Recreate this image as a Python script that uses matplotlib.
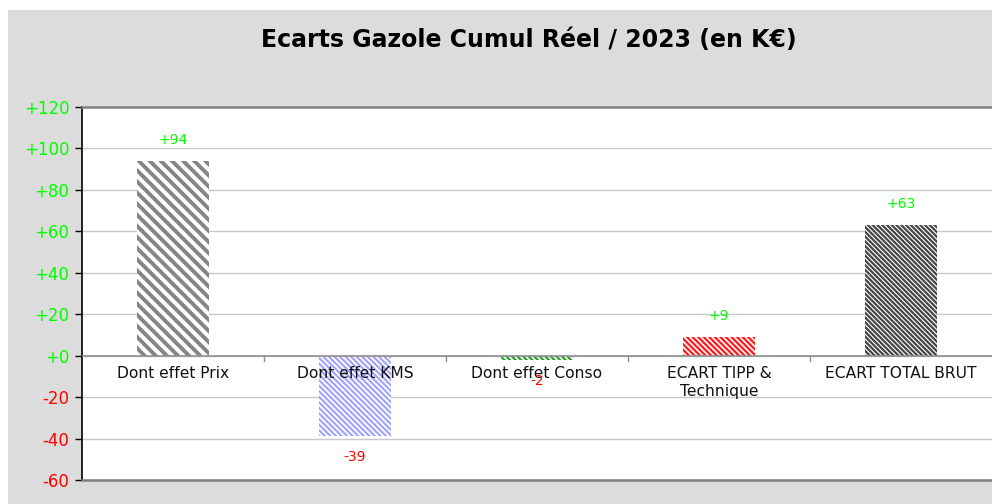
import matplotlib
matplotlib.use("Agg")
import matplotlib.pyplot as plt
from matplotlib.patches import Rectangle

# donnees (en K€)
categories = ["Dont effet Prix", "Dont effet KMS", "Dont effet Conso",
              "ECART TIPP &\nTechnique", "ECART TOTAL BRUT"]
valeurs = [94, -39, -2, 9, 63]
couleurs = ["#858585", "#a0a0ff", "#2e9e2e", "#ff1a1a", "#454545"]
hachures = ["\\" * 3, "\\" * 6, "\\" * 6, "\\" * 6, "\\" * 7]
epaisseurs = [2.8, 1.5, 1.6, 1.6, 1.6]
yticks = [-60, -40, -20, 0, 20, 40, 60, 80, 100, 120]

VERT = "#00ff00"
ROUGE = "#ff0000"

fig = plt.figure(figsize=(9.92, 5.04), dpi=100, facecolor="white")
fig.patches.append(Rectangle((8 / 992, 0), 1, (504 - 10) / 504,
                             transform=fig.transFigure, facecolor="#dcdcdc",
                             edgecolor="none", zorder=-1))

ax = fig.add_axes([82 / 992, 24 / 504, 1 - 82 / 992, (480 - 107) / 504])
ax.set_zorder(1)
ax.set_facecolor("white")

x = list(range(len(categories)))
for i in x:
    plt.rcParams["hatch.linewidth"] = epaisseurs[i]
    ax.bar(i, valeurs[i], width=0.4, color="white", edgecolor=couleurs[i],
           hatch=hachures[i], linewidth=0, zorder=3)

ax.set_xlim(-0.5, 4.5)
ax.set_ylim(-60, 120)
ax.set_yticks(yticks)
ax.set_yticklabels([("+%d" % v) if v >= 0 else str(v) for v in yticks],
                   fontsize=12)
for lab, v in zip(ax.get_yticklabels(), yticks):
    lab.set_color(VERT if v >= 0 else ROUGE)
ax.tick_params(axis="y", length=5, width=1, color="black", pad=4)
ax.grid(axis="y", color="#c8c8c8", linewidth=1, zorder=0)

# axe des categories sur la ligne zero
ax.set_xticks([])
ax.axhline(0, color="#909090", linewidth=1.2, zorder=4)
for b in [0.5, 1.5, 2.5, 3.5]:
    ax.plot([b, b], [0, -2.4], color="#909090", linewidth=1, zorder=4)
for i, cat in enumerate(categories):
    ax.text(i, -5.0, cat, ha="center", va="top", fontsize=11.2,
            color="#111111", zorder=6, linespacing=1.25)

# etiquettes de valeurs
for i, v in enumerate(valeurs):
    txt = ("+%d" % v) if v > 0 else str(v)
    ax.annotate(txt, (i, v), xytext=(0, 15 if v > 0 else -15),
                textcoords="offset points", ha="center", va="center",
                fontsize=10, color=VERT if v > 0 else ROUGE, zorder=7)

for s in ["top", "bottom"]:
    ax.spines[s].set_color("#808080")
    ax.spines[s].set_linewidth(1.8)
ax.spines["left"].set_color("black")
ax.spines["left"].set_linewidth(1.2)
ax.spines["right"].set_visible(False)

fig.text(529 / 992, 1 - 40 / 504, "Ecarts Gazole Cumul Réel / 2023 (en K€)",
         ha="center", va="center", fontsize=17, fontweight="bold")

fig.savefig("out.png", dpi=100)
